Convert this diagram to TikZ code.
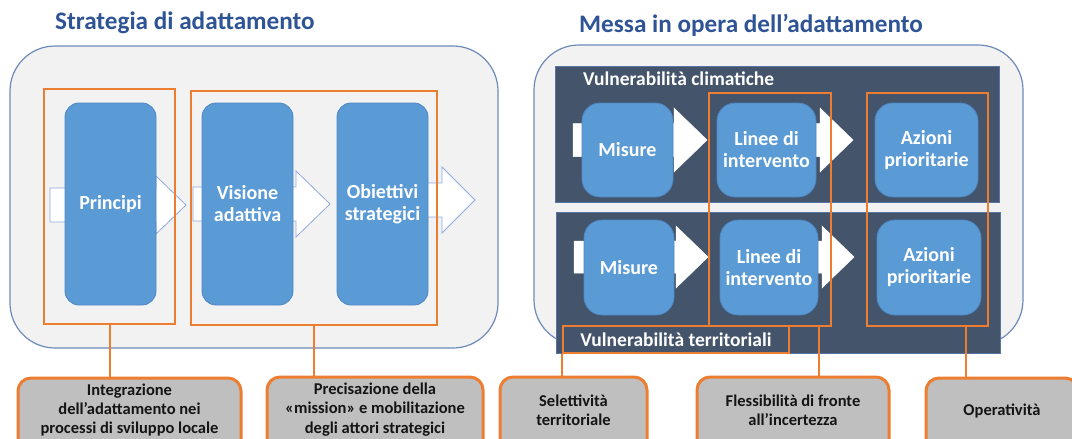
\documentclass[tikz,border=0pt]{standalone}
\usepackage{fontspec}
\setmainfont{Carlito}
\definecolor{ttl}{RGB}{47,84,150}
\definecolor{pnlbg}{RGB}{242,242,242}
\definecolor{pnledge}{RGB}{110,138,186}
\definecolor{bbox}{RGB}{91,155,213}
\definecolor{bboxedge}{RGB}{78,135,196}
\definecolor{darkp}{RGB}{68,84,106}
\definecolor{darkedge}{RGB}{86,116,168}
\definecolor{orng}{RGB}{237,125,49}
\definecolor{gbox}{RGB}{191,191,191}
\definecolor{arredge}{RGB}{143,170,220}
\definecolor{txtdark}{RGB}{20,20,20}
\tikzset{
  x=1pt, y=-1pt,
  titletext/.style={anchor=west, inner sep=0pt, text=ttl, font=\bfseries\fontsize{25.2}{29}\selectfont},
  outerpanel/.style={fill=pnlbg, draw=pnledge, line width=1.2pt, rounded corners=45pt},
  darkpanel/.style={fill=darkp, draw=darkedge, line width=0.8pt},
  bluebox/.style={fill=bbox, draw=bboxedge, line width=0.8pt, rounded corners=14pt, text=white,
    font=\bfseries\fontsize{20}{22}\selectfont, align=center, inner sep=0pt},
  bluebox r/.style={bluebox, rounded corners=18pt},
  lblockarrow/.style={fill=white, draw=arredge, line width=0.8pt},
  rblockarrow/.style={fill=white, draw=white, line width=0.5pt},
  oframe/.style={draw=orng, line width=2.5pt, inner sep=0pt},
  panellabel/.style={inner sep=0pt, text=white, font=\bfseries\fontsize{19.5}{22}\selectfont},
  graybox/.style={fill=gbox, draw=orng, line width=3pt, rounded corners=13pt, inner sep=0pt},
  graytext/.style={inner sep=0pt, align=center, text=txtdark, font=\bfseries\fontsize{16.5}{19.2}\selectfont},
  conn/.style={draw=orng, line width=2pt},
}
\newcommand\mkarrow[7]{% style, tail x, head base x, tip x, centre y, shaft half, head half
  \draw[#1] (#2,#5-#6) -- (#3,#5-#6) -- (#3,#5-#7) -- (#4,#5) -- (#3,#5+#7) -- (#3,#5+#6) -- (#2,#5+#6) -- cycle;}
\begin{document}
\begin{tikzpicture}
\useasboundingbox (0,0) rectangle (1072,439);
\clip (0,0) rectangle (1072,439);

% titles
\node[titletext] (tleft) at (55,23) {Strategia di adattamento};
\node[titletext] (tright) at (579,25) {Messa in opera dell’adattamento};

% outer panels
\draw[outerpanel] (10,46) rectangle (498,348);
\draw[outerpanel] (534,45) rectangle (1023,345);

% left arrows
\mkarrow{lblockarrow}{50}{156}{186}{205}{17}{29}
\mkarrow{lblockarrow}{193}{296}{330}{204}{17}{33}
\mkarrow{lblockarrow}{340}{442}{475}{200}{17}{33}

% left blue boxes
\node[bluebox, minimum width=91pt, minimum height=202pt] (princ) at (110.5,204) {Principi};
\node[bluebox, minimum width=91pt, minimum height=202pt] (vis) at (247.5,204) {Visione\\adattiva};
\node[bluebox, minimum width=91pt, minimum height=202pt] (obi) at (382.5,204) {Obiettivi\\strategici};

% left orange frames
\node[oframe, minimum width=131pt, minimum height=235pt] (of1) at (109.5,206.5) {};
\node[oframe, minimum width=246pt, minimum height=234pt] (of2) at (314,208) {};

% right dark panels
\draw[darkpanel] (555,66) rectangle (999,202);
\draw[darkpanel] (556,212) rectangle (1000,353);
\node[panellabel, anchor=west] (vclim) at (583,79) {Vulnerabilità climatiche};

% right arrows
\mkarrow{rblockarrow}{573}{674}{707}{140}{16.5}{32}
\mkarrow{rblockarrow}{760}{820}{853}{140}{16.5}{32}
\mkarrow{rblockarrow}{574}{676}{708}{257}{16}{31}
\mkarrow{rblockarrow}{760}{822}{854}{257}{16}{31}

% right blue boxes
\node[bluebox r, minimum width=91pt, minimum height=94pt] (mis1) at (627.5,150) {Misure};
\node[bluebox r, minimum width=99pt, minimum height=94pt] (lin1) at (766.5,150) {Linee di\\intervento};
\node[bluebox r, minimum width=103pt, minimum height=94pt] (az1) at (926.5,150) {Azioni\\prioritarie};
\node[bluebox r, minimum width=90pt, minimum height=95pt] (mis2) at (629,267.5) {Misure};
\node[bluebox r, minimum width=98pt, minimum height=95pt] (lin2) at (769,267.5) {Linee di\\intervento};
\node[bluebox r, minimum width=104pt, minimum height=95pt] (az2) at (929,267.5) {Azioni\\prioritarie};

% right orange frames
\node[oframe, minimum width=122pt, minimum height=233pt] (ofl) at (770,209.5) {};
\node[oframe, minimum width=121pt, minimum height=233pt] (ofa) at (927.5,209.5) {};
\node[oframe, minimum width=226pt, minimum height=27pt, text=white,
      font=\bfseries\fontsize{19.5}{22}\selectfont] (oft) at (676,339.5) {Vulnerabilità territoriali};

% bottom boxes
\node[graybox, minimum width=223pt, minimum height=92pt] (b1) at (129.5,424) {};
\node[graybox, minimum width=216pt, minimum height=93pt] (b2) at (375,423.5) {};
\node[graybox, minimum width=147pt, minimum height=93pt] (b3) at (573.5,423.5) {};
\node[graybox, minimum width=192pt, minimum height=93pt] (b4) at (793,423.5) {};
\node[graybox, minimum width=152pt, minimum height=92pt] (b5) at (1002,424) {};

\node[graytext] (t1) at (129.5,410) {Integrazione\\dell’adattamento nei\\processi di sviluppo locale};
\node[graytext] (t2) at (375,409.5) {Precisazione della\\«mission» e mobilitazione\\degli attori strategici};
\node[graytext] (t3) at (573.5,410.5) {Selettività\\territoriale};
\node[graytext] (t4) at (793,410.5) {Flessibilità di fronte\\all’incertezza};
\node[graytext] (t5) at (1002,411) {Operatività};

% connectors
\coordinate (kl) at (819,326);
\coordinate (ka) at (966,326);
\draw[conn] (of1.south) -- (of1.south |- b1.north);
\draw[conn] (of2.south) -- (of2.south |- b2.north);
\draw[conn] (oft.south west) -- (oft.south west |- b3.north);
\draw[conn] (kl) -- (kl |- b4.north);
\draw[conn] (ka) -- (ka |- b5.north);
\end{tikzpicture}
\end{document}
